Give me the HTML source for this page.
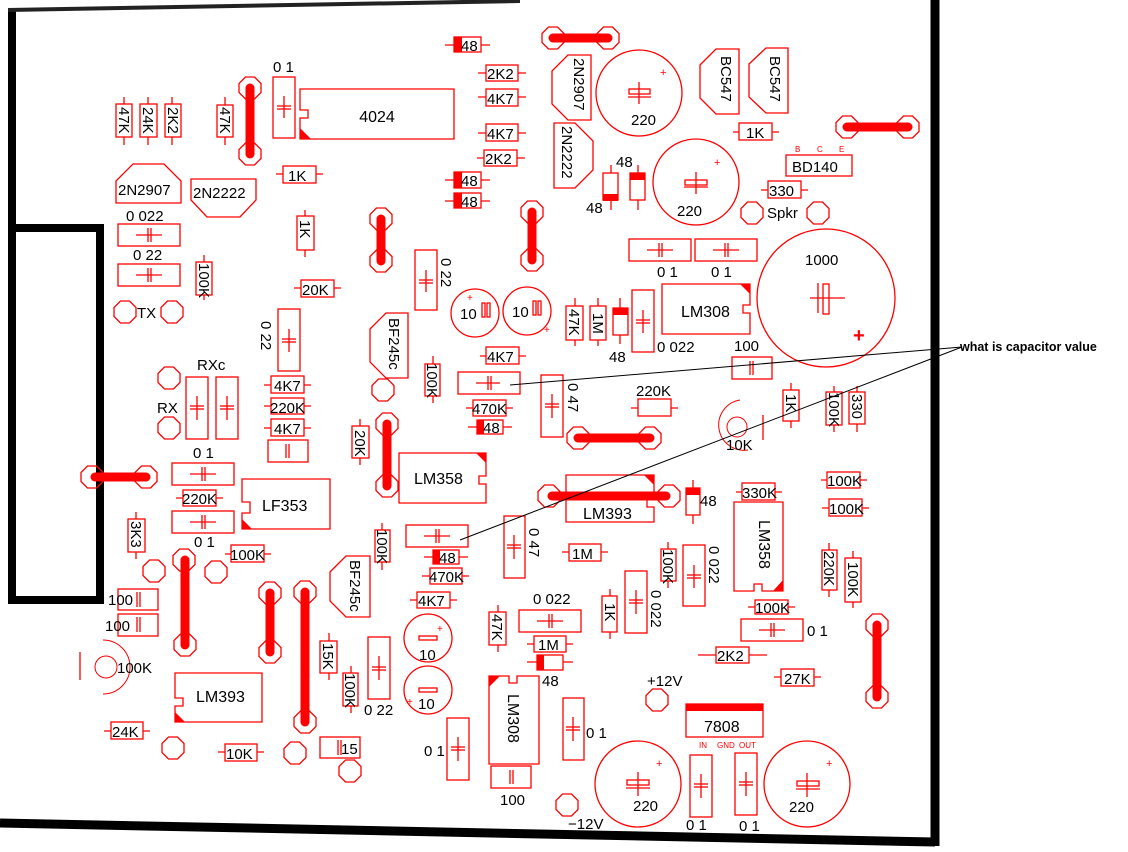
<!DOCTYPE html>
<html><head><meta charset="utf-8"><style>
html,body{margin:0;padding:0;background:#fff}
svg{display:block}
.r{fill:none;stroke:#f00;stroke-width:1.3}
.f{fill:#f00;stroke:none}
.l{stroke:#f00;stroke-width:1.3}
.k{stroke:#f00;stroke-width:9;stroke-linecap:round}
text{font-family:"Liberation Sans",sans-serif;font-size:15px;fill:#000}
.c{text-anchor:middle}
</style></head><body>
<svg width="1128" height="852" viewBox="0 0 1128 852" xmlns="http://www.w3.org/2000/svg">
<defs>
<polygon id="pad" class="r" points="-4.5,-11 4.5,-11 11,-4.5 11,4.5 4.5,11 -4.5,11 -11,4.5 -11,-4.5"/>
</defs>
<!-- board border -->
<path d="M12,8 L12,600 L100,600 L100,228 L12,228" fill="none" stroke="#000" stroke-width="8"/>
<path d="M8,10 L520,1" stroke="#222" stroke-width="4"/>
<path d="M935,0 L935,846" stroke="#000" stroke-width="9"/>
<path d="M0,823 L935,842" stroke="#000" stroke-width="9"/>

<!-- top-left resistors -->
<g class="l"><line x1="124" y1="97" x2="124" y2="145"/><line x1="148" y1="97" x2="148" y2="145"/><line x1="172" y1="97" x2="172" y2="145"/><line x1="225" y1="97" x2="225" y2="145"/></g>
<rect class="r" x="116" y="104" width="16" height="33" style="fill:#fff"/>
<rect class="r" x="140" y="104" width="17" height="33" style="fill:#fff"/>
<rect class="r" x="165" y="104" width="16" height="33" style="fill:#fff"/>
<rect class="r" x="217" y="105" width="16" height="32" style="fill:#fff"/>
<text transform="translate(119,107) rotate(90)">47K</text>
<text transform="translate(143,107) rotate(90)">24K</text>
<text transform="translate(168,107) rotate(90)">2K2</text>
<text transform="translate(220,107) rotate(90)">47K</text>

<use href="#pad" x="250" y="88"/><use href="#pad" x="250" y="154"/>
<line class="k" x1="250" y1="88" x2="250" y2="154"/>
<text x="273" y="72">0 1</text>
<rect class="r" x="273" y="77" width="22" height="61"/>
<g class="l"><line x1="284" y1="96" x2="284" y2="118"/><line x1="277" y1="106" x2="291" y2="106"/><line x1="277" y1="109" x2="291" y2="109"/></g>
<path class="r" d="M300,89 H454 V139 H300 V118 H308 V110 H300 Z"/>
<polygon class="f" points="300,128 300,139 311,139"/>
<text x="377" y="122" class="c" style="font-size:16px">4024</text>
<line class="l" x1="276" y1="174" x2="323" y2="174"/><rect class="r" x="283" y="166" width="33" height="17" style="fill:#fff"/><text x="288" y="181">1K</text>

<polygon class="r" points="116,181 133,164 164,164 181,181 181,203 116,203"/><text x="118" y="195">2N2907</text>
<polygon class="r" points="191,179 256,179 256,200 240,217 207,217 191,200"/><text x="193" y="198">2N2222</text>
<text x="126" y="221">0 022</text>
<rect class="r" x="118" y="224" width="62" height="22"/>
<g class="l"><line x1="136" y1="235" x2="162" y2="235"/><line x1="148" y1="228" x2="148" y2="242"/><line x1="151" y1="228" x2="151" y2="242"/></g>
<text x="133" y="260">0 22</text>
<rect class="r" x="118" y="264" width="62" height="22"/>
<g class="l"><line x1="136" y1="275" x2="162" y2="275"/><line x1="148" y1="268" x2="148" y2="282"/><line x1="151" y1="268" x2="151" y2="282"/></g>
<line class="l" x1="204" y1="255" x2="204" y2="300"/><rect class="r" x="196" y="262" width="16" height="33" style="fill:#fff"/><text transform="translate(199,263) rotate(90)">100K</text>
<line class="l" x1="305" y1="210" x2="305" y2="257"/><rect class="r" x="297" y="216" width="17" height="34" style="fill:#fff"/><text transform="translate(300,220) rotate(90)">1K</text>
<use href="#pad" x="381" y="219"/><use href="#pad" x="381" y="261"/><line class="k" x1="381" y1="219" x2="381" y2="261"/>
<line class="l" x1="294" y1="288" x2="341" y2="288"/><rect class="r" x="301" y="280" width="33" height="17" style="fill:#fff"/><text x="302" y="295">20K</text>
<rect class="r" x="415" y="250" width="22" height="60"/>
<g class="l"><line x1="426" y1="270" x2="426" y2="292"/><line x1="419" y1="280" x2="433" y2="280"/><line x1="419" y1="283" x2="433" y2="283"/></g>
<text transform="translate(441,258) rotate(90)">0 22</text>

<!-- top middle column -->
<line class="l" x1="445" y1="45" x2="490" y2="45"/><rect class="r" x="454" y="37" width="27" height="15" style="fill:#fff"/><rect class="f" x="454" y="37" width="8" height="15"/><text x="461" y="51">48</text>
<g class="l"><line x1="478" y1="73" x2="526" y2="73"/><line x1="478" y1="97" x2="526" y2="97"/><line x1="478" y1="133" x2="526" y2="133"/><line x1="477" y1="158" x2="525" y2="158"/><line x1="445" y1="180" x2="490" y2="180"/><line x1="445" y1="201" x2="490" y2="201"/></g>
<rect class="r" x="486" y="65" width="32" height="16" style="fill:#fff"/><text x="487" y="79">2K2</text>
<rect class="r" x="486" y="89" width="32" height="17" style="fill:#fff"/><text x="487" y="104">4K7</text>
<rect class="r" x="486" y="124" width="32" height="17" style="fill:#fff"/><text x="487" y="139">4K7</text>
<rect class="r" x="484" y="150" width="33" height="16" style="fill:#fff"/><text x="485" y="164">2K2</text>
<rect class="r" x="454" y="172" width="27" height="16" style="fill:#fff"/><rect class="f" x="454" y="172" width="8" height="16"/><text x="461" y="186">48</text>
<rect class="r" x="454" y="193" width="27" height="15" style="fill:#fff"/><rect class="f" x="454" y="193" width="8" height="15"/><text x="461" y="207">48</text>

<use href="#pad" x="553" y="38"/><use href="#pad" x="608" y="38"/><line class="k" x1="553" y1="38" x2="608" y2="38"/>
<polygon class="r" points="552,71 568,55 591,55 591,120 568,120 552,104"/><text transform="translate(574,58) rotate(90)">2N2907</text>
<polygon class="r" points="554,123 575,123 593,141 593,170 575,188 554,188"/><text transform="translate(562,126) rotate(90)">2N2222</text>
<circle class="r" cx="639" cy="93" r="43"/><text x="660" y="76" style="font-size:11px;fill:#f00">+</text>
<g class="l"><line x1="639" y1="82" x2="639" y2="104"/><rect x="629" y="89" width="21" height="5" fill="none"/><line x1="628" y1="97" x2="651" y2="97"/></g>
<text x="631" y="125">220</text>
<circle class="r" cx="696" cy="182" r="43"/><text x="714" y="166" style="font-size:11px;fill:#f00">+</text>
<g class="l"><line x1="696" y1="172" x2="696" y2="194"/><rect x="685" y="180" width="22" height="5" fill="none"/><line x1="684" y1="187" x2="708" y2="187"/></g>
<text x="677" y="216">220</text>
<g class="l"><line x1="611" y1="165" x2="611" y2="210"/><line x1="638" y1="165" x2="638" y2="210"/></g>
<rect class="r" x="603" y="173" width="15" height="27" style="fill:#fff"/><rect class="f" x="603" y="194" width="15" height="7"/>
<rect class="r" x="630" y="173" width="15" height="27" style="fill:#fff"/><rect class="f" x="630" y="173" width="15" height="7"/>
<text x="616" y="167">48</text><text x="586" y="213">48</text>
<polygon class="r" points="700,65 716,49 739,49 739,114 716,114 700,98"/><text transform="translate(721,56) rotate(90)">BC547</text>
<polygon class="r" points="749,64 766,48 788,48 788,113 766,113 749,97"/><text transform="translate(770,56) rotate(90)">BC547</text>
<line class="l" x1="733" y1="132" x2="779" y2="132"/><rect class="r" x="739" y="123" width="33" height="17" style="fill:#fff"/><text x="746" y="138">1K</text>
<use href="#pad" x="847" y="127"/><use href="#pad" x="908" y="127"/><line class="k" x1="847" y1="127" x2="908" y2="127"/>
<text x="795" y="152" style="font-size:8px;fill:#f00">B</text><text x="817" y="152" style="font-size:8px;fill:#f00">C</text><text x="839" y="152" style="font-size:8px;fill:#f00">E</text>
<rect class="r" x="786" y="155" width="66" height="21"/><text x="792" y="172">BD140</text>
<line class="l" x1="761" y1="190" x2="808" y2="190"/><rect class="r" x="768" y="181" width="33" height="17" style="fill:#fff"/><text x="769" y="196">330</text>
<use href="#pad" x="752" y="213"/><use href="#pad" x="818" y="213"/><text x="767" y="218">Spkr</text>
<rect class="r" x="629" y="239" width="62" height="22"/><g class="l"><line x1="647" y1="250" x2="673" y2="250"/><line x1="659" y1="243" x2="659" y2="257"/><line x1="662" y1="243" x2="662" y2="257"/></g>
<rect class="r" x="695" y="239" width="62" height="22"/><g class="l"><line x1="713" y1="250" x2="739" y2="250"/><line x1="725" y1="243" x2="725" y2="257"/><line x1="728" y1="243" x2="728" y2="257"/></g>
<text x="657" y="277">0 1</text><text x="711" y="277">0 1</text>
<use href="#pad" x="532" y="212"/><use href="#pad" x="532" y="260"/><line class="k" x1="532" y1="212" x2="532" y2="260"/>
<circle class="r" cx="826" cy="298" r="69"/><text x="805" y="265">1000</text>
<g class="l"><line x1="810" y1="298" x2="845" y2="298"/><rect x="823" y="284" width="6" height="30" fill="none"/><line x1="818" y1="283" x2="818" y2="313"/></g>
<text x="853" y="342" style="font-size:20px;fill:#f00;font-weight:bold">+</text>

<!-- left-middle -->
<use href="#pad" x="125" y="312"/><use href="#pad" x="172" y="312"/><text x="137" y="318">TX</text>
<text x="197" y="370">RXc</text>
<use href="#pad" x="169" y="378"/><use href="#pad" x="169" y="428"/><text x="157" y="413">RX</text>
<rect class="r" x="186" y="377" width="22" height="62"/><g class="l"><line x1="197" y1="396" x2="197" y2="420"/><line x1="190" y1="406" x2="204" y2="406"/><line x1="190" y1="409" x2="204" y2="409"/></g>
<rect class="r" x="216" y="377" width="22" height="62"/><g class="l"><line x1="227" y1="396" x2="227" y2="420"/><line x1="220" y1="406" x2="234" y2="406"/><line x1="220" y1="409" x2="234" y2="409"/></g>
<text transform="translate(261,321) rotate(90)">0 22</text>
<rect class="r" x="278" y="309" width="22" height="62"/><g class="l"><line x1="289" y1="329" x2="289" y2="352"/><line x1="282" y1="339" x2="296" y2="339"/><line x1="282" y1="342" x2="296" y2="342"/></g>
<g class="l"><line x1="264" y1="385" x2="311" y2="385"/><line x1="264" y1="406" x2="311" y2="406"/><line x1="264" y1="428" x2="311" y2="428"/></g>
<rect class="r" x="271" y="376" width="33" height="17" style="fill:#fff"/><text x="274" y="391">4K7</text>
<rect class="r" x="271" y="398" width="33" height="16" style="fill:#fff"/><text x="270" y="413">220K</text>
<rect class="r" x="271" y="419" width="33" height="17" style="fill:#fff"/><text x="274" y="434">4K7</text>
<rect class="r" x="268" y="440" width="40" height="22"/><g class="l"><line x1="286" y1="444" x2="286" y2="458"/><line x1="289" y1="444" x2="289" y2="458"/></g>
<text x="193" y="458">0 1</text>
<rect class="r" x="172" y="463" width="62" height="22"/><g class="l"><line x1="190" y1="474" x2="216" y2="474"/><line x1="202" y1="467" x2="202" y2="481"/><line x1="205" y1="467" x2="205" y2="481"/></g>
<line class="l" x1="176" y1="498" x2="223" y2="498"/><rect class="r" x="183" y="490" width="33" height="16" style="fill:#fff"/><text x="182" y="504">220K</text>
<rect class="r" x="172" y="511" width="62" height="22"/><g class="l"><line x1="190" y1="522" x2="216" y2="522"/><line x1="202" y1="515" x2="202" y2="529"/><line x1="205" y1="515" x2="205" y2="529"/></g>
<text x="194" y="547">0 1</text>
<path class="r" d="M242,479 H330 V529 H242 V513 H250 V502 H242 Z"/><polygon class="f" points="242,519 242,529 252,529"/>
<text x="262" y="511" style="font-size:16px">LF353</text>
<use href="#pad" x="92" y="477"/><use href="#pad" x="146" y="477"/><line class="k" x1="95" y1="477" x2="146" y2="477"/>
<line class="l" x1="136" y1="512" x2="136" y2="559"/><rect class="r" x="128" y="519" width="17" height="33" style="fill:#fff"/><text transform="translate(131,521) rotate(90)">3K3</text>
<line class="l" x1="225" y1="554" x2="271" y2="554"/><rect class="r" x="231" y="545" width="33" height="17" style="fill:#fff"/><text x="230" y="560">100K</text>

<polygon class="r" points="370,329 386,313 408,313 408,378 386,378 370,362"/><text transform="translate(389,318) rotate(90)">BF245c</text>
<use href="#pad" x="383" y="390"/>
<line class="l" x1="433" y1="356" x2="433" y2="403"/><rect class="r" x="425" y="364" width="15" height="32" style="fill:#fff"/><text transform="translate(427,363) rotate(90)">100K</text>
<line class="l" x1="360" y1="419" x2="360" y2="465"/><rect class="r" x="352" y="426" width="17" height="32" style="fill:#fff"/><text transform="translate(355,430) rotate(90)">20K</text>
<use href="#pad" x="387" y="424"/><use href="#pad" x="387" y="486"/><line class="k" x1="387" y1="424" x2="387" y2="486"/>
<path class="r" d="M399,453 H486 V476 H479 V484 H486 V503 H399 Z"/><polygon class="f" points="476,453 486,453 486,463"/>
<text x="414" y="484" style="font-size:16px">LM358</text>
<circle class="r" cx="475" cy="313" r="24"/><text x="460" y="319">10</text><rect class="r" x="482" y="303" width="3" height="14"/><rect class="r" x="487" y="303" width="3" height="14"/><text x="467" y="301" style="font-size:10px;fill:#f00">+</text>
<circle class="r" cx="527" cy="311" r="24"/><text x="512" y="317">10</text><rect class="r" x="533" y="301" width="3" height="14"/><rect class="r" x="538" y="301" width="3" height="14"/><text x="544" y="333" style="font-size:10px;fill:#f00">+</text>
<line class="l" x1="480" y1="356" x2="526" y2="356"/><rect class="r" x="486" y="347" width="33" height="17" style="fill:#fff"/><text x="487" y="362">4K7</text>
<rect class="r" x="458" y="372" width="62" height="22"/><g class="l"><line x1="476" y1="383" x2="500" y2="383"/><line x1="488" y1="376" x2="488" y2="390"/><line x1="491" y1="376" x2="491" y2="390"/></g>
<line class="l" x1="466" y1="408" x2="513" y2="408"/><rect class="r" x="473" y="400" width="33" height="16" style="fill:#fff"/><text x="472" y="414">470K</text>
<line class="l" x1="468" y1="427" x2="512" y2="427"/><rect class="r" x="477" y="420" width="26" height="14" style="fill:#fff"/><rect class="f" x="477" y="420" width="7" height="14"/><text x="483" y="433">48</text>
<rect class="r" x="541" y="375" width="22" height="62"/><g class="l"><line x1="552" y1="394" x2="552" y2="418"/><line x1="545" y1="404" x2="559" y2="404"/><line x1="545" y1="407" x2="559" y2="407"/></g>
<text transform="translate(568,383) rotate(90)">0 47</text>
<rect class="r" x="406" y="525" width="62" height="22"/><g class="l"><line x1="424" y1="536" x2="450" y2="536"/><line x1="436" y1="529" x2="436" y2="543"/><line x1="439" y1="529" x2="439" y2="543"/></g>
<line class="l" x1="424" y1="557" x2="468" y2="557"/><rect class="r" x="433" y="550" width="26" height="14" style="fill:#fff"/><rect class="f" x="433" y="550" width="7" height="14"/><text x="439" y="563">48</text>
<line class="l" x1="422" y1="576" x2="469" y2="576"/><rect class="r" x="430" y="568" width="32" height="16" style="fill:#fff"/><text x="429" y="582">470K</text>
<line class="l" x1="382" y1="523" x2="382" y2="570"/><rect class="r" x="375" y="530" width="15" height="32" style="fill:#fff"/><text transform="translate(377,529) rotate(90)">100K</text>
<rect class="r" x="504" y="516" width="21" height="62"/><g class="l"><line x1="514" y1="535" x2="514" y2="559"/><line x1="507" y1="545" x2="521" y2="545"/><line x1="507" y1="548" x2="521" y2="548"/></g>
<text transform="translate(529,528) rotate(90)">0 47</text>

<!-- center-right -->
<g class="l"><line x1="575" y1="298" x2="575" y2="346"/><line x1="598" y1="298" x2="598" y2="346"/><line x1="620" y1="298" x2="620" y2="344"/></g>
<rect class="r" x="566" y="306" width="17" height="34" style="fill:#fff"/><text transform="translate(569,309) rotate(90)">47K</text>
<rect class="r" x="590" y="306" width="16" height="34" style="fill:#fff"/><text transform="translate(593,313) rotate(90)">1M</text>
<rect class="r" x="613" y="308" width="15" height="27" style="fill:#fff"/><rect class="f" x="613" y="308" width="15" height="7"/>
<text x="609" y="362">48</text>
<rect class="r" x="632" y="290" width="22" height="62"/><g class="l"><line x1="643" y1="310" x2="643" y2="333"/><line x1="636" y1="320" x2="650" y2="320"/><line x1="636" y1="323" x2="650" y2="323"/></g>
<text x="657" y="352">0 022</text>
<path class="r" d="M662,284 H750 V305 H743 V313 H750 V334 H662 Z"/><polygon class="f" points="740,284 750,284 750,294"/>
<text x="681" y="317" style="font-size:16px">LM308</text>
<text x="734" y="351">100</text>
<rect class="r" x="732" y="357" width="40" height="22"/><g class="l"><line x1="750" y1="361" x2="750" y2="375"/><line x1="753" y1="361" x2="753" y2="375"/></g>
<text x="636" y="396">220K</text>
<line class="l" x1="631" y1="408" x2="678" y2="408"/><rect class="r" x="638" y="399" width="33" height="17" style="fill:#fff"/>
<use href="#pad" x="578" y="438"/><use href="#pad" x="650" y="438"/><line class="k" x1="578" y1="438" x2="650" y2="438"/>
<path d="M740,400 A25,25 0 1 0 748,450" class="r" style="stroke-width:1"/><circle class="r" cx="737" cy="427" r="10" style="stroke-width:1"/>
<line class="l" x1="763" y1="415" x2="763" y2="440"/><text x="726" y="450">10K</text>
<line class="l" x1="791" y1="383" x2="791" y2="428"/><rect class="r" x="783" y="390" width="16" height="31" style="fill:#fff"/><text transform="translate(786,394) rotate(90)">1K</text>
<line class="l" x1="834" y1="386" x2="834" y2="432"/><rect class="r" x="826" y="392" width="16" height="33" style="fill:#fff"/><text transform="translate(829,392) rotate(90)">100K</text>
<line class="l" x1="857" y1="386" x2="857" y2="432"/><rect class="r" x="849" y="392" width="16" height="32" style="fill:#fff"/><text transform="translate(852,394) rotate(90)">330</text>
<use href="#pad" x="549" y="496"/><use href="#pad" x="669" y="496"/>
<path class="r" d="M566,475 H654 V499 H647 V507 H654 V522 H566 Z"/><polygon class="f" points="644,475 654,475 654,485"/>
<line class="k" x1="552" y1="496" x2="666" y2="496"/>
<text x="583" y="519" style="font-size:16px">LM393</text>
<line class="l" x1="693" y1="480" x2="693" y2="524"/><rect class="r" x="686" y="488" width="14" height="27" style="fill:#fff"/><rect class="f" x="686" y="488" width="14" height="7"/><text x="700" y="506">48</text>
<line class="l" x1="736" y1="492" x2="782" y2="492"/><rect class="r" x="742" y="483" width="33" height="17" style="fill:#fff"/><text x="742" y="498">330K</text>
<path class="r" d="M734,502 H783 V591 H762 V584 H754 V591 H734 Z"/><polygon class="f" points="783,580 783,591 773,591"/>
<text transform="translate(759,520) rotate(90)" style="font-size:16px">LM358</text>
<g class="l"><line x1="821" y1="480" x2="867" y2="480"/><line x1="822" y1="508" x2="869" y2="508"/></g>
<rect class="r" x="827" y="472" width="33" height="16" style="fill:#fff"/><text x="827" y="486">100K</text>
<rect class="r" x="829" y="499" width="33" height="17" style="fill:#fff"/><text x="829" y="514">100K</text>
<line class="l" x1="562" y1="552" x2="608" y2="552"/><rect class="r" x="569" y="544" width="32" height="17" style="fill:#fff"/><text x="572" y="559">1M</text>
<line class="l" x1="668" y1="542" x2="668" y2="588"/><rect class="r" x="661" y="549" width="15" height="32" style="fill:#fff"/><text transform="translate(663,549) rotate(90)">100K</text>
<rect class="r" x="683" y="545" width="22" height="61"/><g class="l"><line x1="694" y1="565" x2="694" y2="588"/><line x1="687" y1="575" x2="701" y2="575"/><line x1="687" y1="578" x2="701" y2="578"/></g>
<text transform="translate(709,546) rotate(90)">0 022</text>
<line class="l" x1="829" y1="543" x2="829" y2="597"/><rect class="r" x="822" y="550" width="15" height="40" style="fill:#fff"/><text transform="translate(824,551) rotate(90)">220K</text>
<line class="l" x1="853" y1="551" x2="853" y2="608"/><rect class="r" x="845" y="558" width="16" height="44" style="fill:#fff"/><text transform="translate(848,562) rotate(90)">100K</text>

<!-- bottom left -->
<use href="#pad" x="154" y="571"/><use href="#pad" x="216" y="572"/>
<rect class="r" x="118" y="589" width="40" height="21"/><rect class="r" x="118" y="614" width="40" height="22"/>
<g class="l"><line x1="137" y1="592" x2="137" y2="607"/><line x1="140" y1="592" x2="140" y2="607"/><line x1="137" y1="617" x2="137" y2="632"/><line x1="140" y1="617" x2="140" y2="632"/></g>
<text x="108" y="605">100</text><text x="105" y="631">100</text>
<path d="M103,640 A27,27 0 0 1 103,694" class="r" style="stroke-width:1"/><circle class="r" cx="106" cy="667" r="11" style="stroke-width:1"/>
<line class="l" x1="80" y1="652" x2="80" y2="680"/><text x="117" y="673">100K</text>
<path class="r" d="M175,673 H262 V722 H175 V706 H183 V698 H175 Z"/><polygon class="f" points="175,712 175,722 185,722"/>
<text x="196" y="702" style="font-size:16px">LM393</text>
<use href="#pad" x="184" y="560"/><use href="#pad" x="185" y="645"/><line class="k" x1="185" y1="560" x2="185" y2="645"/>
<use href="#pad" x="270" y="593"/><use href="#pad" x="270" y="652"/><line class="k" x1="270" y1="593" x2="270" y2="652"/>
<use href="#pad" x="305" y="592"/><use href="#pad" x="305" y="722"/><line class="k" x1="305" y1="592" x2="305" y2="722"/>
<line class="l" x1="104" y1="731" x2="150" y2="731"/><rect class="r" x="111" y="722" width="32" height="17" style="fill:#fff"/><text x="112" y="737">24K</text>
<use href="#pad" x="173" y="748"/>
<line class="l" x1="218" y1="752" x2="264" y2="752"/><rect class="r" x="225" y="744" width="32" height="17" style="fill:#fff"/><text x="226" y="759">10K</text>
<use href="#pad" x="295" y="753"/>
<rect class="r" x="320" y="737" width="40" height="21"/><g class="l"><line x1="338" y1="740" x2="338" y2="755"/><line x1="341" y1="740" x2="341" y2="755"/></g><text x="341" y="754">15</text>
<use href="#pad" x="350" y="771"/>
<line class="l" x1="329" y1="633" x2="329" y2="680"/><rect class="r" x="320" y="641" width="17" height="32" style="fill:#fff"/><text transform="translate(323,643) rotate(90)">15K</text>
<line class="l" x1="351" y1="666" x2="351" y2="713"/><rect class="r" x="343" y="673" width="15" height="33" style="fill:#fff"/><text transform="translate(345,673) rotate(90)">100K</text>
<rect class="r" x="368" y="637" width="22" height="62"/><g class="l"><line x1="379" y1="656" x2="379" y2="680"/><line x1="372" y1="667" x2="386" y2="667"/><line x1="372" y1="670" x2="386" y2="670"/></g>
<text x="364" y="715">0 22</text>
<polygon class="r" points="330,572 346,556 370,556 370,617 346,617 330,601"/><text transform="translate(350,560) rotate(90)">BF245c</text>
<line class="l" x1="410" y1="600" x2="457" y2="600"/><rect class="r" x="417" y="592" width="33" height="16" style="fill:#fff"/><text x="418" y="606">4K7</text>
<circle class="r" cx="428" cy="638" r="24"/><rect class="r" x="419" y="636" width="18" height="4"/><text x="419" y="660">10</text><text x="437" y="632" style="font-size:10px;fill:#f00">+</text>
<circle class="r" cx="428" cy="690" r="24"/><rect class="r" x="419" y="688" width="18" height="4"/><text x="418" y="709">10</text><text x="407" y="705" style="font-size:10px;fill:#f00">+</text>
<rect class="r" x="447" y="718" width="22" height="62"/><g class="l"><line x1="458" y1="737" x2="458" y2="761"/><line x1="451" y1="747" x2="465" y2="747"/><line x1="451" y1="750" x2="465" y2="750"/></g>
<text x="424" y="756">0 1</text>

<!-- bottom right -->
<line class="l" x1="498" y1="605" x2="498" y2="652"/><rect class="r" x="489" y="612" width="17" height="33" style="fill:#fff"/><text transform="translate(492,614) rotate(90)">47K</text>
<text x="533" y="604">0 022</text>
<rect class="r" x="519" y="610" width="62" height="22"/><g class="l"><line x1="537" y1="621" x2="563" y2="621"/><line x1="549" y1="614" x2="549" y2="628"/><line x1="552" y1="614" x2="552" y2="628"/></g>
<line class="l" x1="527" y1="644" x2="573" y2="644"/><rect class="r" x="534" y="636" width="32" height="16" style="fill:#fff"/><text x="538" y="650">1M</text>
<line class="l" x1="527" y1="662" x2="573" y2="662"/><rect class="r" x="537" y="655" width="26" height="15" style="fill:#fff"/><rect class="f" x="537" y="655" width="7" height="15"/>
<text x="542" y="686">48</text>
<path class="r" d="M489,676 H509 V683 H517 V676 H539 V764 H489 Z"/><polygon class="f" points="489,676 500,676 489,687"/>
<text transform="translate(508,694) rotate(90)" style="font-size:16px">LM308</text>
<rect class="r" x="491" y="766" width="40" height="22"/><g class="l"><line x1="510" y1="770" x2="510" y2="784"/><line x1="513" y1="770" x2="513" y2="784"/></g>
<text x="500" y="805">100</text>
<line class="l" x1="610" y1="589" x2="610" y2="639"/><rect class="r" x="602" y="596" width="15" height="36" style="fill:#fff"/><text transform="translate(605,603) rotate(90)">1K</text>
<rect class="r" x="625" y="571" width="22" height="62"/><g class="l"><line x1="636" y1="590" x2="636" y2="614"/><line x1="629" y1="600" x2="643" y2="600"/><line x1="629" y1="603" x2="643" y2="603"/></g>
<text transform="translate(651,590) rotate(90)">0 022</text>
<line class="l" x1="748" y1="607" x2="795" y2="607"/><rect class="r" x="755" y="600" width="33" height="14" style="fill:#fff"/><text x="755" y="613">100K</text>
<rect class="r" x="741" y="619" width="62" height="22"/><g class="l"><line x1="759" y1="630" x2="785" y2="630"/><line x1="771" y1="623" x2="771" y2="637"/><line x1="774" y1="623" x2="774" y2="637"/></g>
<text x="807" y="636">0 1</text>
<line class="l" x1="698" y1="655" x2="767" y2="655"/><rect class="r" x="716" y="647" width="33" height="16" style="fill:#fff"/><text x="717" y="661">2K2</text>
<line class="l" x1="774" y1="677" x2="821" y2="677"/><rect class="r" x="781" y="669" width="33" height="17" style="fill:#fff"/><text x="784" y="684">27K</text>
<use href="#pad" x="877" y="625"/><use href="#pad" x="877" y="697"/><line class="k" x1="877" y1="625" x2="877" y2="697"/>
<text x="647" y="686">+12V</text><use href="#pad" x="657" y="700"/>
<rect class="r" x="686" y="704" width="77" height="33"/><rect class="f" x="686" y="704" width="77" height="7"/>
<text x="704" y="732" style="font-size:16px">7808</text>
<text x="699" y="748" style="font-size:8px;fill:#f00">IN</text><text x="717" y="748" style="font-size:8px;fill:#f00">GND</text><text x="739" y="748" style="font-size:8px;fill:#f00">OUT</text>
<rect class="r" x="563" y="698" width="21" height="62"/><g class="l"><line x1="573" y1="717" x2="573" y2="741"/><line x1="566" y1="727" x2="580" y2="727"/><line x1="566" y1="730" x2="580" y2="730"/></g>
<text x="586" y="738">0 1</text>
<circle class="r" cx="638" cy="784" r="43"/><text x="656" y="767" style="font-size:11px;fill:#f00">+</text>
<g class="l"><line x1="638" y1="772" x2="638" y2="796"/><rect x="627" y="780" width="22" height="5" fill="none"/><line x1="626" y1="788" x2="650" y2="788"/></g>
<text x="633" y="811">220</text>
<circle class="r" cx="807" cy="784" r="43"/><text x="826" y="767" style="font-size:11px;fill:#f00">+</text>
<g class="l"><line x1="807" y1="773" x2="807" y2="797"/><rect x="797" y="781" width="22" height="5" fill="none"/><line x1="796" y1="789" x2="820" y2="789"/></g>
<text x="789" y="812">220</text>
<rect class="r" x="690" y="755" width="22" height="62"/><g class="l"><line x1="701" y1="774" x2="701" y2="798"/><line x1="694" y1="784" x2="708" y2="784"/><line x1="694" y1="787" x2="708" y2="787"/></g>
<rect class="r" x="735" y="753" width="22" height="62"/><g class="l"><line x1="746" y1="772" x2="746" y2="796"/><line x1="739" y1="782" x2="753" y2="782"/><line x1="739" y1="785" x2="753" y2="785"/></g>
<text x="686" y="830">0 1</text><text x="739" y="831">0 1</text>
<use href="#pad" x="567" y="805"/><text x="568" y="829">−12V</text>

<!-- annotation -->
<line x1="510" y1="385" x2="962" y2="347" stroke="#000" stroke-width="1"/>
<line x1="460" y1="540" x2="962" y2="347" stroke="#000" stroke-width="1"/>
<text x="960" y="351" style="font-size:12.5px;font-weight:bold">what is capacitor value</text>
</svg>
</body></html>
